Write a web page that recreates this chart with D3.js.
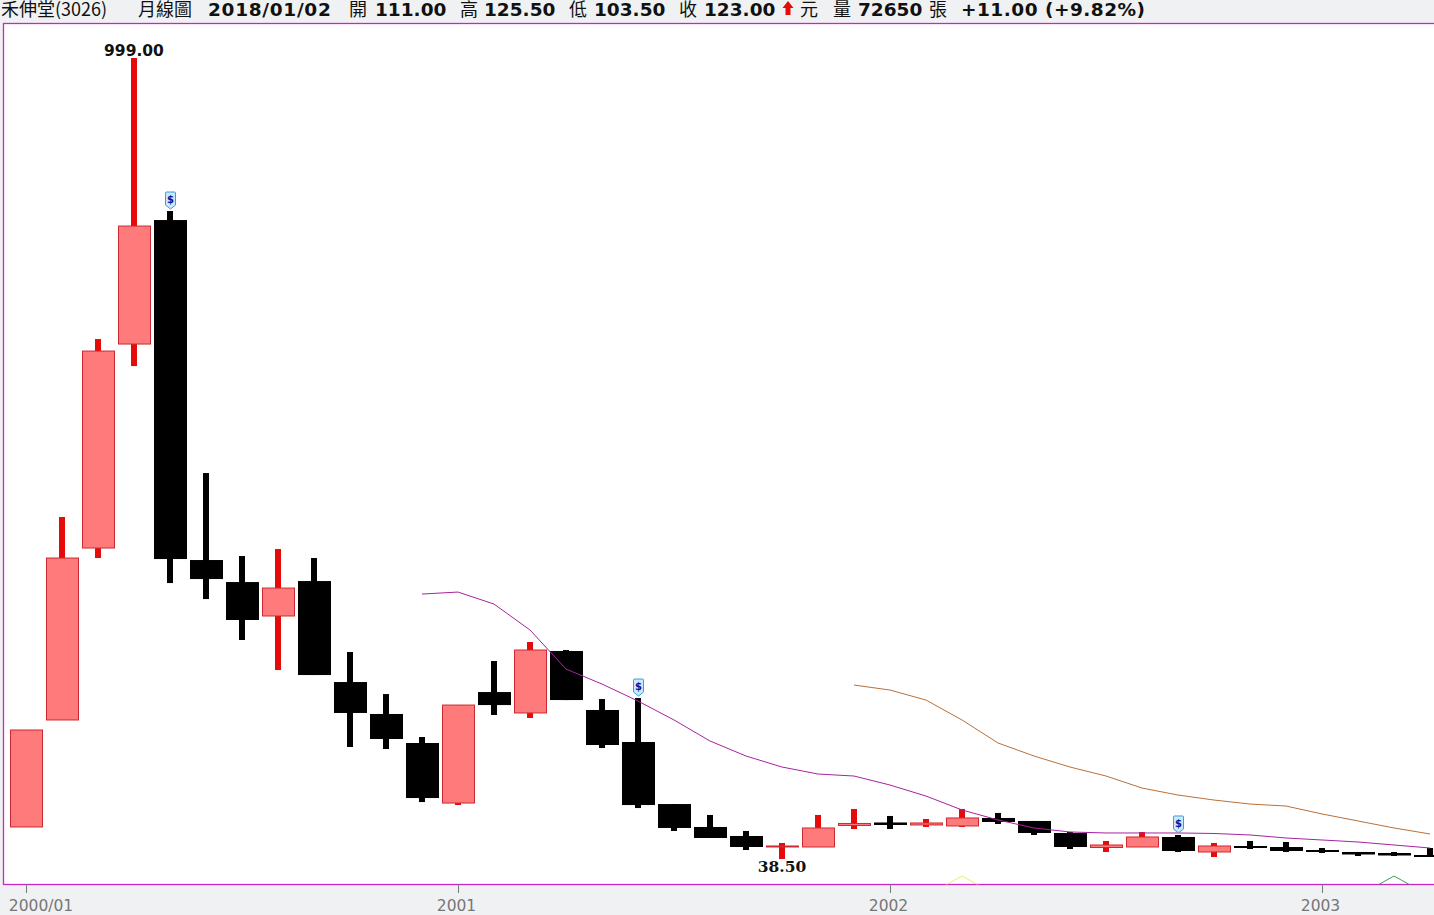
<!DOCTYPE html>
<html>
<head>
<meta charset="utf-8">
<script src="https://cdn.jsdelivr.net/npm/d3@7"></script>
<style>
  html, body { margin: 0; padding: 0; background: #f0f1f2; overflow: hidden; }
  svg { display: block; }
  .hd { font-family: "DejaVu Sans", sans-serif; font-weight: bold; font-size: 18.5px; fill: #111; }
  .hd.cjk { font-family: "Noto Sans CJK TC", sans-serif; font-weight: 400; font-size: 18px; }
  .price { font-family: "DejaVu Sans", sans-serif; font-weight: bold; font-size: 15.5px; fill: #111; text-anchor: middle; }
  .axis text { font-family: "DejaVu Sans", sans-serif; font-size: 15.5px; fill: #777; }
  .axis line { stroke: #777; }
  .axis path { display: none; }
</style>
</head>
<body>
<svg></svg>
<script>
// month index of each candle, 0 = 2000/01
const opens  = [76.9, 205.2, 411.4, 656, 804.7, 397, 370.6, 329.9, 371.8, 250.7, 212.4, 177.6, 105.6, 238.7, 213.6, 287.9, 217.2, 178.8, 104.4, 76.9, 66.1, 52.9, 52.9, 78.7, 82.3, 79.3, 78.1, 87.7, 84.1, 69.7, 52.3, 52.9, 64.9, 46.9, 54.1, 52.9, 49.3, 46.9, 45.7, 43.3];
const closes = [193.2, 399.4, 647.6, 797.5, 398.2, 374.2, 325.1, 363.4, 259.1, 213.6, 182.4, 111.6, 223.1, 223.1, 289.1, 229.1, 175.2, 103.2, 75.7, 63.7, 52.9, 54.1, 75.7, 81.1, 79.3, 81.7, 87.7, 82.9, 69.7, 52.9, 55.3, 64.9, 48.1, 54.1, 51.7, 48.1, 46.9, 43.9, 42.7, 40.9];
const highs  = [193.2, 448.6, 662, 999, 815.5, 501.3, 401.8, 410.2, 399.4, 286.7, 236.3, 184.8, 223.1, 275.9, 298.7, 289.1, 230.3, 231.5, 104.4, 91.3, 72.1, 57.7, 91.3, 98.5, 90.1, 86.5, 98.5, 93.7, 84.1, 70.9, 60.1, 70.9, 67.3, 57.7, 60.1, 58.9, 51.7, 46.9, 46.9, 51.7];
const lows   = [76.9, 205.2, 399.4, 629.6, 369.4, 350.2, 301.1, 265.1, 259.1, 172.8, 170.4, 106.8, 103.2, 211.2, 207.6, 229.1, 171.6, 99.6, 72.1, 63.7, 49.3, 38.5, 52.9, 74.5, 74.5, 76.9, 76.9, 80.5, 67.3, 50.5, 46.9, 52.9, 46.9, 40.9, 50.5, 46.9, 45.7, 42.1, 42.1, 40.9];

// moving averages, first value belongs to the month in *Start
const maMagentaStart = 11;
const maMagenta = [356.2, 358.6, 344.2, 313.1, 266.3, 248.3, 227.9, 205.2, 180, 162, 148.8, 140.4, 138, 127.2, 114, 97.3, 85.3, 75.7, 70.9, 69.7, 69.7, 69.7, 69.1, 67.3, 63.7, 61.3, 58.9, 55.3, 51.7];
const maOrangeStart = 23;
const maOrange = [247.1, 241.1, 229.1, 205.2, 177.6, 162, 148.8, 138, 123.6, 115.2, 109.2, 104.4, 102, 92.5, 84.1, 75.7, 68.5];

// small peaks that poke up through the bottom of the plot
const yellowMonths = [25, 26, 27];
const yellowPeak = [-5.9, 18.1, -5.9];
const greenMonths = [37, 38, 39];
const greenPeak = [-5.9, 18.1, -5.9];

const dividendMonths = [4, 17, 32];
const tickMonths = [0, 12, 24, 36];
const tickLabels = ["2000/01", "2001", "2002", "2003"];
const maxMonth = 3, maxLabel = "999.00";
const minMonth = 21, minLabel = "38.50";

const headerTexts = ["禾伸堂(3026)", "月線圖", "2018/01/02", "開", "111.00", "高", "125.50", "低", "103.50", "收", "123.00", "元", "量", "72650", "張", "+11.00 (+9.82%)"];
const headerCjk = [true, true, false, true, false, true, false, true, false, true, false, true, true, false, true, false];

// Plot sizes
const W = 1434, H = 915;
const plot = { l: 3.5, t: 23.5, b: 884.5 };
const bodyW = 33, wickW = 6;
const headerX = [1, 138, 208, 349, 375, 460, 484, 569, 594, 679, 704, 800, 833, 858, 929, 961];
const headerSpacing = { 2: "0.7px", 15: "0.5px" };

const svg = d3.select("svg").attr("width", W).attr("height", H);

const xScale = d3.scaleLinear().domain([0, 39]).range([26, 1430]);
const yScale = d3.scaleLinear().domain([38.5, 999]).range([859, 58]);

svg.append("defs").append("clipPath").attr("id", "plotClip")
  .append("rect").attr("x", plot.l).attr("y", plot.t).attr("width", W - plot.l).attr("height", plot.b - plot.t);

// Plot body
svg.append("rect")
  .attr("x", plot.l).attr("y", plot.t)
  .attr("width", W - plot.l + 2).attr("height", plot.b - plot.t)
  .attr("fill", "#fff").attr("stroke", "#cc22cc").attr("stroke-width", 1.3);

const g = svg.append("g").attr("clip-path", "url(#plotClip)");

// Candles
const candles = d3.range(opens.length).map(i => ({
  i, o: opens[i], c: closes[i], h: highs[i], l: lows[i], up: closes[i] >= opens[i]
}));

g.selectAll("rect.wick")
  .data(candles)
  .enter()
  .append("rect")
    .attr("class", "wick")
    .attr("x", d => xScale(d.i) - wickW / 2)
    .attr("y", d => yScale(d.h))
    .attr("width", wickW)
    .attr("height", d => yScale(d.l) - yScale(d.h))
    .attr("fill", d => d.up ? "#e60b0b" : "#000");

g.selectAll("rect.body")
  .data(candles)
  .enter()
  .append("rect")
    .attr("class", "body")
    .attr("x", d => xScale(d.i) - (d.up ? 15.5 : 16))
    .attr("y", d => yScale(Math.max(d.o, d.c)))
    .attr("width", d => d.up ? bodyW - 1 : bodyW)
    .attr("height", d => Math.max(yScale(Math.min(d.o, d.c)) - yScale(Math.max(d.o, d.c)), 1))
    .attr("fill", d => d.up ? "#ff7b7b" : "#000")
    .attr("stroke", d => d.up ? "#cc2a30" : "none")
    .attr("stroke-width", 1);

// Lines
const lineOf = (vals, start) => d3.line()
  .x((d, i) => xScale(start + i))
  .y(d => yScale(d))(vals);

const addLine = (path, color) => g.append("path")
  .attr("d", path).attr("fill", "none").attr("stroke", color).attr("stroke-width", 1);

addLine(lineOf(maMagenta, maMagentaStart), "#a9229f");
addLine(lineOf(maOrange, maOrangeStart), "#b8703a");
addLine(lineOf(yellowPeak, yellowMonths[0]), "#eeee66");
addLine(lineOf(greenPeak, greenMonths[0]), "#3f9f4f");

// Dividend markers
const marks = svg.selectAll("g.mark")
  .data(dividendMonths)
  .enter()
  .append("g")
    .attr("class", "mark")
    .attr("transform", d => `translate(${xScale(d) + 0.5}, ${yScale(highs[d]) - 2})`);

marks.append("path")
  .attr("d", "M0,0 L-5,-4 L-5,-16 Q-5,-17 -4,-17 L4,-17 Q5,-17 5,-16 L5,-4 Z")
  .attr("fill", "#c5ebff").attr("stroke", "#3d9bd6").attr("stroke-width", 1);

marks.append("text")
  .attr("y", -6).attr("text-anchor", "middle")
  .attr("font-family", "DejaVu Sans").attr("font-weight", "bold").attr("font-size", 10)
  .attr("fill", "#10109a")
  .text("$");

// High and low labels
svg.append("text").attr("class", "price")
  .attr("x", xScale(maxMonth)).attr("y", yScale(highs[maxMonth]) - 2)
  .text(maxLabel);
svg.append("text").attr("class", "price")
  .attr("x", xScale(minMonth)).attr("y", yScale(lows[minMonth]) + 13)
  .style("font-family", "DejaVu Serif")
  .text(minLabel);

// x axis
const xAxis = d3.axisBottom(xScale)
  .tickValues(tickMonths)
  .tickSize(9)
  .tickFormat((d, i) => tickLabels[i]);

const axisG = svg.append("g")
  .attr("class", "axis")
  .attr("transform", `translate(0, ${plot.b - 0.5})`)
  .call(xAxis);

axisG.selectAll("text")
  .attr("y", 16)
  .attr("dx", (d, i) => i === 0 ? 14.5 : -2);

// Header
svg.selectAll("text.hd")
  .data(headerTexts)
  .enter()
  .append("text")
    .attr("class", (d, i) => headerCjk[i] ? "hd cjk" : "hd")
    .attr("x", (d, i) => headerX[i])
    .attr("y", 15.5)
    .style("letter-spacing", (d, i) => headerSpacing[i] || null)
    .text(d => d);

// up arrow after the close
svg.append("path")
  .attr("d", "M788,1 L793.5,8 L790.5,8 L790.5,15 L785.5,15 L785.5,8 L782.5,8 Z")
  .attr("fill", "#e60b0b");
</script>
</body>
</html>
